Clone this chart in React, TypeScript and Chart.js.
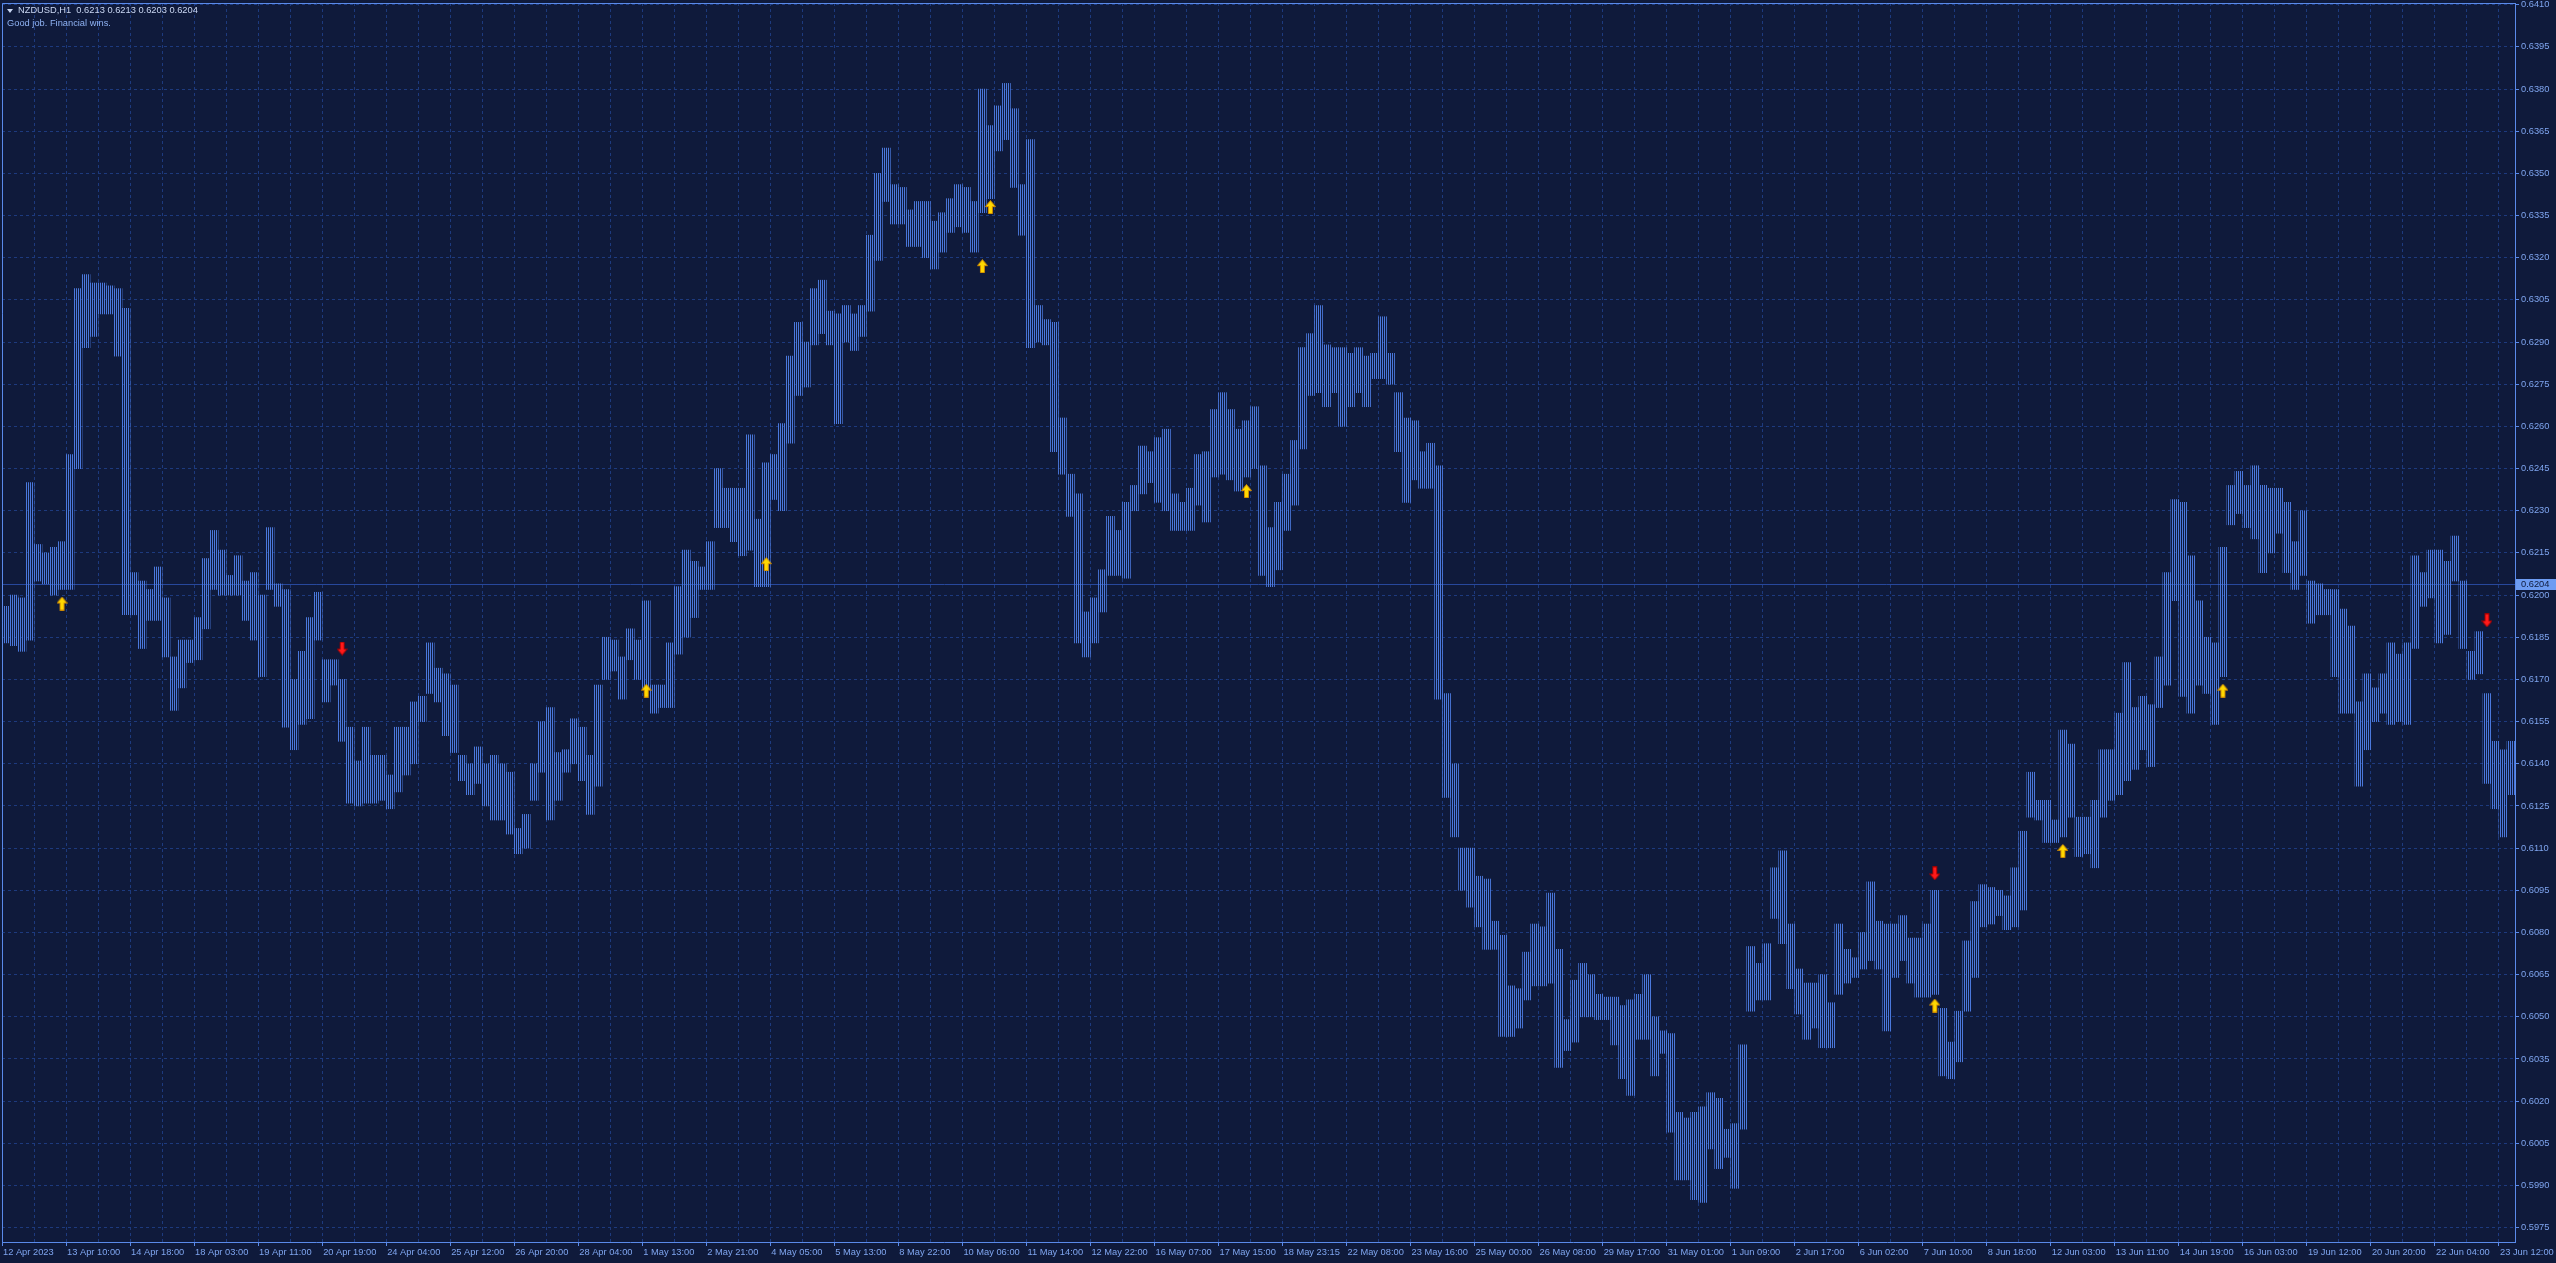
import { useEffect, useRef } from 'react';
import { Chart, registerables } from 'chart.js';

Chart.register(...registerables);

// ---- data (4-hour groups of H1 bars) ----
const HIGH = [
  0.6196, 0.6200, 0.6199, 0.6240, 0.6218, 0.6215, 0.6217, 0.6219, 0.6250, 0.6309,
  0.6314, 0.6311, 0.6311, 0.6310, 0.6309, 0.6302, 0.6208, 0.6205, 0.6202, 0.6210,
  0.6199, 0.6178, 0.6184, 0.6184, 0.6192, 0.6213, 0.6223, 0.6216, 0.6207, 0.6214,
  0.6205, 0.6208, 0.6200, 0.6224, 0.6204, 0.6202, 0.6170, 0.6180, 0.6192, 0.6201,
  0.6177, 0.6177, 0.6170, 0.6153, 0.6141, 0.6153, 0.6143, 0.6143, 0.6136, 0.6153,
  0.6153, 0.6162, 0.6164, 0.6183, 0.6174, 0.6172, 0.6168, 0.6143, 0.6140, 0.6146,
  0.6140, 0.6143, 0.6140, 0.6137, 0.6117, 0.6122, 0.6140, 0.6155, 0.6160, 0.6144,
  0.6145, 0.6156, 0.6153, 0.6143, 0.6168, 0.6185, 0.6184, 0.6178, 0.6188, 0.6184,
  0.6198, 0.6168, 0.6168, 0.6183, 0.6203, 0.6216, 0.6212, 0.6210, 0.6219, 0.6245,
  0.6238, 0.6238, 0.6238, 0.6257, 0.6227, 0.6247, 0.6250, 0.6261, 0.6285, 0.6297,
  0.6290, 0.6309, 0.6312, 0.6301, 0.6300, 0.6303, 0.6300, 0.6303, 0.6328, 0.6350,
  0.6359, 0.6346, 0.6345, 0.6337, 0.6340, 0.6340, 0.6333, 0.6336, 0.6341, 0.6346,
  0.6345, 0.6340, 0.6380, 0.6367, 0.6374, 0.6382, 0.6373, 0.6346, 0.6362, 0.6303,
  0.6298, 0.6297, 0.6263, 0.6243, 0.6236, 0.6194, 0.6199, 0.6209, 0.6228, 0.6223,
  0.6233, 0.6239, 0.6253, 0.6251, 0.6256, 0.6259, 0.6236, 0.6233, 0.6238, 0.6250,
  0.6251, 0.6266, 0.6272, 0.6266, 0.6259, 0.6262, 0.6267, 0.6246, 0.6224, 0.6233,
  0.6243, 0.6255, 0.6288, 0.6293, 0.6303, 0.6289, 0.6288, 0.6288, 0.6286, 0.6288,
  0.6285, 0.6286, 0.6299, 0.6286, 0.6272, 0.6263, 0.6262, 0.6251, 0.6254, 0.6246,
  0.6165, 0.6140, 0.6110, 0.6110, 0.6100, 0.6099, 0.6084, 0.6079, 0.6061, 0.6060,
  0.6073, 0.6083, 0.6082, 0.6094, 0.6074, 0.6049, 0.6063, 0.6069, 0.6065, 0.6058,
  0.6057, 0.6057, 0.6054, 0.6056, 0.6058, 0.6065, 0.6050, 0.6045, 0.6044, 0.6016,
  0.6014, 0.6016, 0.6018, 0.6023, 0.6021, 0.6010, 0.6012, 0.6040, 0.6075, 0.6069,
  0.6076, 0.6103, 0.6109, 0.6083, 0.6067, 0.6062, 0.6062, 0.6065, 0.6055, 0.6083,
  0.6074, 0.6071, 0.6080, 0.6098, 0.6084, 0.6083, 0.6083, 0.6086, 0.6078, 0.6078,
  0.6083, 0.6095, 0.6053, 0.6041, 0.6052, 0.6077, 0.6091, 0.6097, 0.6096, 0.6095,
  0.6093, 0.6103, 0.6116, 0.6137, 0.6127, 0.6127, 0.6120, 0.6152, 0.6147, 0.6121,
  0.6121, 0.6127, 0.6145, 0.6145, 0.6158, 0.6176, 0.6160, 0.6164, 0.6161, 0.6178,
  0.6208, 0.6234, 0.6233, 0.6214, 0.6198, 0.6185, 0.6183, 0.6217, 0.6239, 0.6244,
  0.6239, 0.6246, 0.6239, 0.6238, 0.6238, 0.6233, 0.6219, 0.6230, 0.6205, 0.6204,
  0.6202, 0.6202, 0.6195, 0.6189, 0.6162, 0.6172, 0.6167, 0.6172, 0.6183, 0.6179,
  0.6183, 0.6214, 0.6208, 0.6216, 0.6216, 0.6212, 0.6221, 0.6205, 0.6180, 0.6187,
  0.6165, 0.6148, 0.6145, 0.6148,
];

const LOW = [
  0.6183, 0.6182, 0.6180, 0.6184, 0.6205, 0.6204, 0.6200, 0.6202, 0.6202, 0.6245,
  0.6288, 0.6292, 0.6300, 0.6300, 0.6285, 0.6193, 0.6193, 0.6181, 0.6191, 0.6191,
  0.6178, 0.6159, 0.6167, 0.6176, 0.6177, 0.6188, 0.6202, 0.6200, 0.6200, 0.6200,
  0.6191, 0.6184, 0.6171, 0.6202, 0.6196, 0.6153, 0.6145, 0.6154, 0.6156, 0.6184,
  0.6162, 0.6168, 0.6148, 0.6126, 0.6125, 0.6126, 0.6126, 0.6127, 0.6124, 0.6130,
  0.6136, 0.6140, 0.6155, 0.6165, 0.6162, 0.6150, 0.6144, 0.6134, 0.6129, 0.6133,
  0.6125, 0.6120, 0.6120, 0.6115, 0.6108, 0.6110, 0.6127, 0.6137, 0.6120, 0.6127,
  0.6137, 0.6140, 0.6134, 0.6122, 0.6132, 0.6170, 0.6173, 0.6163, 0.6177, 0.6170,
  0.6167, 0.6158, 0.6160, 0.6160, 0.6179, 0.6185, 0.6192, 0.6202, 0.6202, 0.6224,
  0.6224, 0.6219, 0.6214, 0.6216, 0.6203, 0.6203, 0.6234, 0.6230, 0.6254, 0.6271,
  0.6274, 0.6289, 0.6293, 0.6289, 0.6261, 0.6290, 0.6287, 0.6292, 0.6301, 0.6319,
  0.6340, 0.6332, 0.6332, 0.6324, 0.6324, 0.6320, 0.6316, 0.6322, 0.6329, 0.6331,
  0.6329, 0.6322, 0.6336, 0.6341, 0.6358, 0.6362, 0.6345, 0.6328, 0.6288, 0.6290,
  0.6289, 0.6251, 0.6243, 0.6228, 0.6183, 0.6178, 0.6183, 0.6194, 0.6207, 0.6207,
  0.6206, 0.6230, 0.6236, 0.6240, 0.6233, 0.6230, 0.6223, 0.6223, 0.6223, 0.6232,
  0.6226, 0.6242, 0.6243, 0.6241, 0.6237, 0.6242, 0.6245, 0.6207, 0.6203, 0.6209,
  0.6223, 0.6232, 0.6252, 0.6271, 0.6272, 0.6267, 0.6272, 0.6260, 0.6267, 0.6272,
  0.6267, 0.6277, 0.6277, 0.6275, 0.6251, 0.6233, 0.6241, 0.6238, 0.6238, 0.6163,
  0.6128, 0.6114, 0.6095, 0.6089, 0.6082, 0.6074, 0.6074, 0.6043, 0.6043, 0.6046,
  0.6056, 0.6061, 0.6061, 0.6062, 0.6032, 0.6038, 0.6041, 0.6050, 0.6050, 0.6049,
  0.6049, 0.6040, 0.6028, 0.6022, 0.6042, 0.6042, 0.6029, 0.6037, 0.6009, 0.5992,
  0.5992, 0.5985, 0.5984, 0.6003, 0.5996, 0.6000, 0.5989, 0.6010, 0.6052, 0.6056,
  0.6056, 0.6085, 0.6076, 0.6060, 0.6051, 0.6042, 0.6046, 0.6039, 0.6039, 0.6058,
  0.6062, 0.6064, 0.6067, 0.6070, 0.6067, 0.6045, 0.6064, 0.6070, 0.6062, 0.6057,
  0.6057, 0.6058, 0.6029, 0.6028, 0.6034, 0.6052, 0.6064, 0.6082, 0.6083, 0.6086,
  0.6081, 0.6082, 0.6088, 0.6121, 0.6120, 0.6112, 0.6112, 0.6114, 0.6121, 0.6107,
  0.6108, 0.6103, 0.6121, 0.6127, 0.6129, 0.6134, 0.6138, 0.6145, 0.6139, 0.6160,
  0.6168, 0.6198, 0.6164, 0.6158, 0.6168, 0.6165, 0.6154, 0.6171, 0.6225, 0.6229,
  0.6224, 0.6220, 0.6208, 0.6215, 0.6222, 0.6208, 0.6202, 0.6207, 0.6190, 0.6193,
  0.6193, 0.6171, 0.6158, 0.6158, 0.6132, 0.6145, 0.6155, 0.6158, 0.6154, 0.6155,
  0.6154, 0.6181, 0.6196, 0.6199, 0.6183, 0.6186, 0.6205, 0.6181, 0.6170, 0.6172,
  0.6133, 0.6124, 0.6114, 0.6129,
];

const X_LABELS = [
  '12 Apr 2023', '13 Apr 10:00', '14 Apr 18:00', '18 Apr 03:00', '19 Apr 11:00',
  '20 Apr 19:00', '24 Apr 04:00', '25 Apr 12:00', '26 Apr 20:00', '28 Apr 04:00',
  '1 May 13:00', '2 May 21:00', '4 May 05:00', '5 May 13:00', '8 May 22:00',
  '10 May 06:00', '11 May 14:00', '12 May 22:00', '16 May 07:00', '17 May 15:00',
  '18 May 23:15', '22 May 08:00', '23 May 16:00', '25 May 00:00', '26 May 08:00',
  '29 May 17:00', '31 May 01:00', '1 Jun 09:00', '2 Jun 17:00', '6 Jun 02:00',
  '7 Jun 10:00', '8 Jun 18:00', '12 Jun 03:00', '13 Jun 11:00', '14 Jun 19:00',
  '16 Jun 03:00', '19 Jun 12:00', '20 Jun 20:00', '22 Jun 04:00', '23 Jun 12:00',
];

const Y_TICKS = [
  0.5975, 0.5990, 0.6005, 0.6020, 0.6035, 0.6050, 0.6065, 0.6080, 0.6095, 0.6110,
  0.6125, 0.6140, 0.6155, 0.6170, 0.6185, 0.6200, 0.6215, 0.6230, 0.6245, 0.6260,
  0.6275, 0.6290, 0.6305, 0.6320, 0.6335, 0.6350, 0.6365, 0.6380, 0.6395, 0.6410,
];

const UP_ARROW_AT = [7, 80, 95, 122, 123, 155, 241, 257, 277];
const UP_ARROW_PRICE = [0.6197, 0.6166, 0.6211, 0.6317, 0.6338, 0.6237, 0.6054, 0.6109, 0.6166];
const DOWN_ARROW_AT = [42, 241, 310];
const DOWN_ARROW_PRICE = [0.6181, 0.6101, 0.6191];

const LAST_PRICE = 0.6204;
const HEADER = 'NZDUSD,H1  0.6213 0.6213 0.6203 0.6204';
const SUBTITLE = 'Good job. Financial wins.';

// ---- style ----
const W = 2556;
const H = 1263;
const BG = '#0f1a3b';
const GRID = '#1d3a7e';
const AXIS = '#5a8aea';
const LABEL = '#7fa5ef';
const BAR = '#4a78dc';
const PRICE_LINE = '#27489c';
const PRICE_BOX = '#6d9cf2';
const FONT_FAMILY = '"Liberation Sans", Arial, sans-serif';
const FONT_SIZE = 9.3;
const GROUPS_PER_GRID = 4;
const GRIDS_PER_LABEL = 2;

function makeArrow(up: boolean, fill: string, edge: string): HTMLCanvasElement {
  const c = document.createElement('canvas');
  c.width = 11;
  c.height = 14;
  const g = c.getContext('2d')!;
  g.save();
  if (!up) {
    g.translate(0, 14);
    g.scale(1, -1);
  }
  g.beginPath();
  g.moveTo(5.5, 0.5);
  g.lineTo(10.5, 6.5);
  g.lineTo(7.5, 6.5);
  g.lineTo(7.5, 13.5);
  g.lineTo(3.5, 13.5);
  g.lineTo(3.5, 6.5);
  g.lineTo(0.5, 6.5);
  g.closePath();
  g.fillStyle = fill;
  g.fill();
  g.strokeStyle = edge;
  g.lineWidth = 1;
  g.stroke();
  g.restore();
  return c;
}

export default function App() {
  const ref = useRef<HTMLCanvasElement | null>(null);

  useEffect(() => {
    document.body.style.margin = '0';
    document.body.style.background = BG;
    const canvas = ref.current!;
    const ctx = canvas.getContext('2d')!;

    const stripe = document.createElement('canvas');
    stripe.width = 2;
    stripe.height = 1;
    const sg = stripe.getContext('2d')!;
    sg.fillStyle = BAR;
    sg.fillRect(0, 0, 1, 1);
    const pattern = ctx.createPattern(stripe, 'repeat')!;

    const upImg = makeArrow(true, '#ffd800', '#d08a00');
    const downImg = makeArrow(false, '#ff1a1a', '#a00000');

    const n = HIGH.length;
    const gridCount = Math.floor(n / GROUPS_PER_GRID) + 1;
    const xTickValues: number[] = [];
    for (let k = 0; k < gridCount; k++) xTickValues.push(k * GROUPS_PER_GRID - 0.5);

    const overlay = {
      id: 'mtOverlay',
      beforeDatasetsDraw(chart: any) {
        const { ctx: c, chartArea: a, scales } = chart;
        const py = Math.round(scales.y.getPixelForValue(LAST_PRICE)) + 0.5;
        c.save();
        c.strokeStyle = PRICE_LINE;
        c.lineWidth = 1;
        c.beginPath();
        c.moveTo(a.left, py);
        c.lineTo(a.right, py);
        c.stroke();
        c.restore();
      },
      afterDraw(chart: any) {
        const { ctx: c, chartArea: a, scales } = chart;
        c.save();
        c.strokeStyle = AXIS;
        c.lineWidth = 1;
        c.beginPath();
        c.moveTo(a.left + 0.5, a.bottom);
        c.lineTo(a.left + 0.5, a.top + 0.5);
        c.lineTo(a.right, a.top + 0.5);
        c.stroke();
        const py = Math.round(scales.y.getPixelForValue(LAST_PRICE));
        c.fillStyle = PRICE_BOX;
        c.fillRect(a.right + 1, py - 5, W - a.right - 1, 11);
        c.fillStyle = BG;
        c.font = `${FONT_SIZE}px ${FONT_FAMILY}`;
        c.textBaseline = 'middle';
        c.textAlign = 'left';
        c.fillText(LAST_PRICE.toFixed(4), a.right + 6, py + 0.5);
        c.restore();
      },
    };

    const chart = new Chart(ctx, {
      type: 'bar',
      data: {
        datasets: [
          {
            type: 'scatter',
            label: 'up',
            data: UP_ARROW_AT.map((x, i) => ({ x, y: UP_ARROW_PRICE[i] })),
            pointStyle: upImg as any,
            pointRadius: 6,
            order: 0,
          } as any,
          {
            type: 'scatter',
            label: 'down',
            data: DOWN_ARROW_AT.map((x, i) => ({ x, y: DOWN_ARROW_PRICE[i] })),
            pointStyle: downImg as any,
            pointRadius: 6,
            order: 0,
          } as any,
          {
            type: 'bar',
            label: 'NZDUSD',
            data: HIGH.map((h, i) => ({ x: i, y: [LOW[i], h] })),
            backgroundColor: pattern as any,
            borderWidth: 0,
            borderSkipped: false,
            barPercentage: 1,
            categoryPercentage: 1,
            order: 1,
          } as any,
        ],
      },
      options: {
        animation: false,
        responsive: false,
        devicePixelRatio: 1,
        events: [],
        layout: { autoPadding: false, padding: { left: 2, top: 3, right: 0, bottom: 0 } },
        plugins: { legend: { display: false }, tooltip: { enabled: false } },
        scales: {
          x: {
            type: 'linear',
            position: 'bottom',
            min: -0.5,
            max: n - 0.5,
            offset: false,
            grid: {
              offset: false,
              color: GRID,
              lineWidth: 1,
              drawTicks: true,
              tickLength: 4,
              tickColor: (c: any) => (c.index % GRIDS_PER_LABEL === 0 ? AXIS : 'rgba(0,0,0,0)'),
            },
            border: { display: true, color: AXIS, width: 1, dash: [3, 3] },
            ticks: {
              autoSkip: false,
              maxRotation: 0,
              minRotation: 0,
              align: 'start',
              labelOffset: 1,
              padding: 1,
              color: LABEL,
              font: { family: FONT_FAMILY, size: FONT_SIZE },
              callback: (_v: any, i: number) =>
                i % GRIDS_PER_LABEL === 0 ? X_LABELS[i / GRIDS_PER_LABEL] ?? '' : '',
            },
            afterBuildTicks: (s: any) => {
              s.ticks = xTickValues.map((value) => ({ value }));
            },
            afterFit: (s: any) => {
              s.height = 21;
              s.paddingLeft = 0;
              s.paddingRight = 0;
              s.paddingTop = 0;
              s.paddingBottom = 0;
            },
          } as any,
          y: {
            type: 'linear',
            position: 'right',
            min: 0.59699,
            max: 0.64106,
            beginAtZero: false,
            grid: {
              color: GRID,
              lineWidth: 1,
              drawTicks: true,
              tickLength: 4,
              tickColor: AXIS,
            },
            border: { display: true, color: AXIS, width: 1, dash: [3, 3] },
            ticks: {
              padding: 2,
              color: LABEL,
              font: { family: FONT_FAMILY, size: FONT_SIZE },
              callback: (v: any) => Number(v).toFixed(4),
            },
            afterBuildTicks: (s: any) => {
              s.ticks = Y_TICKS.map((value) => ({ value }));
            },
            afterFit: (s: any) => {
              s.width = W - 2515;
              s.paddingLeft = 0;
              s.paddingRight = 0;
              s.paddingTop = 0;
              s.paddingBottom = 0;
            },
          } as any,
        },
      },
      plugins: [overlay],
    });

    return () => chart.destroy();
  }, []);

  const textBase: any = {
    position: 'absolute',
    fontFamily: FONT_FAMILY,
    fontSize: FONT_SIZE,
    lineHeight: '11px',
    whiteSpace: 'pre',
  };

  return (
    <div style={{ position: 'relative', width: W, height: H, background: BG, overflow: 'hidden' }}>
      <canvas ref={ref} width={W} height={H} style={{ display: 'block', width: W, height: H }} />
      <div
        style={{
          position: 'absolute',
          left: 7,
          top: 9,
          width: 0,
          height: 0,
          borderLeft: '3px solid transparent',
          borderRight: '3px solid transparent',
          borderTop: '4px solid #c9d6f2',
        }}
      />
      <div style={{ ...textBase, left: 18, top: 5, color: '#c9d6f2' }}>{HEADER}</div>
      <div style={{ ...textBase, left: 7, top: 18, color: '#8fb2f3' }}>{SUBTITLE}</div>
    </div>
  );
}
